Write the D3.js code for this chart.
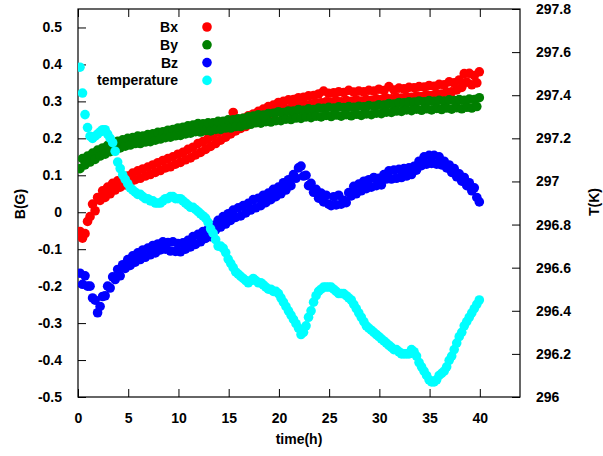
<!DOCTYPE html>
<html>
<head>
<meta charset="utf-8">
<script src="https://cdn.jsdelivr.net/npm/d3@7/dist/d3.min.js"></script>
<style>
  html, body { margin: 0; padding: 0; background: #fff; }
  svg { display: block; }
  text { font-family: "Liberation Sans", Arial, sans-serif; font-weight: bold; font-size: 14px; fill: #000; }
</style>
</head>
<body>
<svg id="chart" width="603" height="456"></svg>
<script>
// Sampling: one reading every 15 minutes, starting at 0.2 h
const sampleStart = 0.2;
const sampleStep = 0.25;

// Magnetic field components (G)
const bx = [
  -0.052, -0.07, -0.058, -0.025,
  -0.012, 0.022, 0.004, 0.04,
  0.032, 0.058, 0.04, 0.068,
  0.05, 0.078, 0.06, 0.085,
  0.068, 0.092, 0.074, 0.098,
  0.08, 0.106, 0.088, 0.112,
  0.092, 0.117, 0.098, 0.122,
  0.102, 0.128, 0.108, 0.134,
  0.113, 0.14, 0.12, 0.145,
  0.123, 0.15, 0.13, 0.157,
  0.135, 0.162, 0.142, 0.17,
  0.147, 0.176, 0.155, 0.186,
  0.162, 0.191, 0.17, 0.2,
  0.178, 0.207, 0.186, 0.217,
  0.195, 0.224, 0.203, 0.233,
  0.212, 0.27, 0.22, 0.248,
  0.227, 0.254, 0.232, 0.261,
  0.24, 0.266, 0.245, 0.273,
  0.252, 0.279, 0.258, 0.286,
  0.265, 0.29, 0.27, 0.297,
  0.276, 0.3, 0.28, 0.304,
  0.282, 0.305, 0.286, 0.31,
  0.288, 0.311, 0.291, 0.315,
  0.292, 0.316, 0.296, 0.32,
  0.296, 0.328, 0.299, 0.322,
  0.298, 0.323, 0.302, 0.326,
  0.299, 0.324, 0.303, 0.33,
  0.3, 0.325, 0.304, 0.328,
  0.301, 0.326, 0.305, 0.33,
  0.303, 0.328, 0.307, 0.333,
  0.305, 0.329, 0.309, 0.34,
  0.307, 0.331, 0.311, 0.336,
  0.309, 0.334, 0.313, 0.338,
  0.311, 0.337, 0.315, 0.34,
  0.313, 0.339, 0.318, 0.343,
  0.316, 0.341, 0.321, 0.346,
  0.32, 0.345, 0.325, 0.353,
  0.326, 0.35, 0.331, 0.358,
  0.338, 0.375, 0.352, 0.376,
  0.345, 0.37, 0.35, 0.38
];

const by = [
  0.118, 0.145, 0.128, 0.152,
  0.136, 0.16, 0.143, 0.168,
  0.152, 0.174, 0.157, 0.181,
  0.164, 0.186, 0.169, 0.192,
  0.174, 0.196, 0.179, 0.2,
  0.182, 0.202, 0.186, 0.206,
  0.186, 0.206, 0.19, 0.21,
  0.191, 0.212, 0.195, 0.216,
  0.198, 0.218, 0.202, 0.222,
  0.203, 0.224, 0.207, 0.228,
  0.208, 0.23, 0.212, 0.234,
  0.214, 0.236, 0.218, 0.24,
  0.217, 0.239, 0.221, 0.242,
  0.22, 0.242, 0.224, 0.246,
  0.224, 0.246, 0.228, 0.25,
  0.228, 0.25, 0.232, 0.253,
  0.232, 0.254, 0.236, 0.258,
  0.238, 0.26, 0.242, 0.264,
  0.241, 0.263, 0.245, 0.267,
  0.244, 0.268, 0.248, 0.272,
  0.248, 0.27, 0.252, 0.274,
  0.251, 0.274, 0.255, 0.278,
  0.254, 0.276, 0.258, 0.28,
  0.256, 0.278, 0.26, 0.282,
  0.258, 0.281, 0.262, 0.284,
  0.259, 0.282, 0.263, 0.285,
  0.26, 0.283, 0.264, 0.286,
  0.261, 0.284, 0.265, 0.287,
  0.262, 0.285, 0.266, 0.289,
  0.264, 0.287, 0.268, 0.291,
  0.267, 0.29, 0.271, 0.294,
  0.27, 0.293, 0.274, 0.297,
  0.273, 0.296, 0.277, 0.299,
  0.275, 0.298, 0.279, 0.301,
  0.276, 0.299, 0.28, 0.302,
  0.277, 0.3, 0.281, 0.303,
  0.278, 0.301, 0.282, 0.304,
  0.279, 0.302, 0.283, 0.305,
  0.28, 0.303, 0.284, 0.306,
  0.282, 0.305, 0.286, 0.31
];

const bz = [
  -0.165, -0.195, -0.172, -0.2,
  -0.2, -0.232, -0.238, -0.272,
  -0.255, -0.228, -0.226, -0.2,
  -0.205, -0.175, -0.182, -0.155,
  -0.172, -0.142, -0.152, -0.128,
  -0.144, -0.118, -0.135, -0.11,
  -0.128, -0.102, -0.122, -0.097,
  -0.115, -0.09, -0.11, -0.086,
  -0.102, -0.08, -0.1, -0.082,
  -0.105, -0.08, -0.106, -0.085,
  -0.107, -0.083, -0.1, -0.076,
  -0.094, -0.066, -0.087, -0.06,
  -0.08, -0.052, -0.071, -0.046,
  -0.066, -0.036, -0.048, -0.022,
  -0.04, -0.012, -0.032, -0.004,
  -0.022, 0.006, -0.014, 0.012,
  -0.01, 0.018, -0.002, 0.024,
  0.006, 0.034, 0.012, 0.038,
  0.018, 0.046, 0.026, 0.052,
  0.034, 0.062, 0.042, 0.068,
  0.05, 0.08, 0.06, 0.088,
  0.072, 0.102, 0.092, 0.12,
  0.125, 0.098, 0.1, 0.072,
  0.078, 0.054, 0.062, 0.038,
  0.052, 0.028, 0.046, 0.022,
  0.018, 0.042, 0.02, 0.046,
  0.022, 0.032, 0.026, 0.053,
  0.044, 0.07, 0.05, 0.076,
  0.058, 0.084, 0.064, 0.088,
  0.068, 0.094, 0.072, 0.092,
  0.074, 0.102, 0.09, 0.112,
  0.09, 0.114, 0.092, 0.116,
  0.094, 0.118, 0.098, 0.12,
  0.102, 0.124, 0.114, 0.138,
  0.126, 0.15, 0.13, 0.154,
  0.132, 0.154, 0.13, 0.15,
  0.128, 0.138, 0.12, 0.128,
  0.108, 0.118, 0.096, 0.104,
  0.084, 0.094, 0.072, 0.08,
  0.058, 0.066, 0.04, 0.028
];

// Temperature (K)
const temperature = [
  297.53, 297.41, 297.31, 297.25,
  297.21, 297.20, 297.21, 297.22,
  297.23, 297.24, 297.24, 297.22,
  297.20, 297.18, 297.14, 297.09,
  297.06, 297.03, 297.01, 296.99,
  296.97, 296.96, 296.95, 296.94,
  296.94, 296.93, 296.92, 296.92,
  296.91, 296.91, 296.90, 296.90,
  296.90, 296.91, 296.92, 296.92,
  296.93, 296.93, 296.92, 296.92,
  296.92, 296.91, 296.90, 296.89,
  296.88, 296.88, 296.87, 296.86,
  296.85, 296.84, 296.83, 296.81,
  296.78, 296.76, 296.73, 296.70,
  296.70, 296.69, 296.67, 296.64,
  296.62, 296.60, 296.58, 296.57,
  296.56, 296.55, 296.54, 296.53,
  296.54, 296.55, 296.54, 296.53,
  296.53, 296.52, 296.51, 296.50,
  296.50, 296.49, 296.49, 296.48,
  296.46, 296.44, 296.42, 296.40,
  296.38, 296.36, 296.34, 296.32,
  296.29, 296.30, 296.33, 296.37,
  296.40, 296.44, 296.47, 296.49,
  296.50, 296.51, 296.51, 296.51,
  296.51, 296.50, 296.49, 296.48,
  296.48, 296.48, 296.47, 296.46,
  296.45, 296.43, 296.41, 296.39,
  296.37, 296.35, 296.33, 296.32,
  296.31, 296.30, 296.29, 296.28,
  296.27, 296.26, 296.25, 296.24,
  296.23, 296.22, 296.22, 296.21,
  296.20, 296.20, 296.20, 296.20,
  296.22, 296.21, 296.19, 296.16,
  296.14, 296.12, 296.10, 296.08,
  296.07, 296.07, 296.08, 296.10,
  296.11, 296.12, 296.14, 296.17,
  296.19, 296.22, 296.25, 296.28,
  296.30, 296.33, 296.35, 296.37,
  296.39, 296.41, 296.43, 296.45
];

// Axis tick labels
const xTicks = [0, 5, 10, 15, 20, 25, 30, 35, 40];
const yTicks = [-0.5, -0.4, -0.3, -0.2, -0.1, 0, 0.1, 0.2, 0.3, 0.4, 0.5];
const y2Ticks = [296, 296.2, 296.4, 296.6, 296.8, 297, 297.2, 297.4, 297.6, 297.8];

const seriesNames = ["Bx", "By", "Bz", "temperature"];
const seriesColors = ["#ff0000", "#007f00", "#0000ff", "#00ffff"];

const hours = bx.map((_, i) => sampleStart + i * sampleStep);

const svg = d3.select("#chart");
const plot = { left: 78, right: 520, top: 9, bottom: 397 };

const x = d3.scaleLinear().domain([0, 44]).range([plot.left, plot.right]);
const y = d3.scaleLinear().domain([-0.5, 0.55]).range([plot.bottom, plot.top]);
const y2 = d3.scaleLinear().domain([296, 297.8]).range([plot.bottom, plot.top]);

const tickLen = 8;

// Bottom axis (ticks drawn inward) and mirrored ticks on top
const xAxis = svg.append("g").attr("transform", `translate(0,${plot.bottom})`)
  .call(d3.axisBottom(x).tickValues(xTicks).tickSize(-tickLen).tickPadding(16).tickFormat(d3.format("d")));
const xTop = svg.append("g").attr("transform", `translate(0,${plot.top})`)
  .call(d3.axisTop(x).tickValues(xTicks).tickSize(-tickLen).tickFormat(""));

// Left axis for field components
const yAxis = svg.append("g").attr("transform", `translate(${plot.left},0)`)
  .call(d3.axisLeft(y).tickValues(yTicks).tickSize(-tickLen).tickPadding(16)
    .tickFormat(d => Math.abs(d) < 1e-9 ? "0" : d3.format(".1f")(d).replace("\u2212", "-")));

// Right axis for temperature
const y2Axis = svg.append("g").attr("transform", `translate(${plot.right},0)`)
  .call(d3.axisRight(y2).tickValues(y2Ticks).tickSize(-tickLen).tickPadding(16)
    .tickFormat(d => d3.format("")(+d.toFixed(1))));

[xAxis, xTop, yAxis, y2Axis].forEach(g => {
  g.select(".domain").remove();
  g.selectAll(".tick line").attr("stroke", "#000").attr("stroke-width", 1);
  g.selectAll(".tick text").attr("font-size", 14).attr("font-family", null);
});

// Plot frame
svg.append("rect")
  .attr("x", plot.left).attr("y", plot.top)
  .attr("width", plot.right - plot.left).attr("height", plot.bottom - plot.top)
  .attr("fill", "none").attr("stroke", "#000").attr("stroke-width", 1.2);

// Data points, clipped to the plot area
svg.append("clipPath").attr("id", "plot-clip").append("rect")
  .attr("x", plot.left).attr("y", plot.top)
  .attr("width", plot.right - plot.left).attr("height", plot.bottom - plot.top);

const layers = svg.append("g").attr("clip-path", "url(#plot-clip)");
const seriesData = [
  { values: bx, scale: y },
  { values: by, scale: y },
  { values: bz, scale: y },
  { values: temperature, scale: y2 }
];
const radius = 4.8;
seriesData.forEach((s, k) => {
  layers.append("g").selectAll("circle")
    .data(s.values)
    .join("circle")
    .attr("cx", (d, i) => x(hours[i]))
    .attr("cy", d => s.scale(d))
    .attr("r", radius)
    .attr("fill", seriesColors[k]);
});

// Legend
const legend = svg.append("g");
seriesNames.forEach((name, k) => {
  const ly = 27 + k * 17.8;
  legend.append("text").attr("x", 178).attr("y", ly + 5)
    .attr("text-anchor", "end").text(name);
  legend.append("circle").attr("cx", 207).attr("cy", ly)
    .attr("r", radius).attr("fill", seriesColors[k]);
});

// Axis titles
svg.append("text").attr("x", (plot.left + plot.right) / 2).attr("y", 444)
  .attr("text-anchor", "middle").text("time(h)");
svg.append("text").attr("transform", "translate(25,204) rotate(-90)")
  .attr("text-anchor", "middle").text("B(G)");
svg.append("text").attr("transform", "translate(599,202) rotate(-90)")
  .attr("text-anchor", "middle").text("T(K)");
</script>
</body>
</html>
